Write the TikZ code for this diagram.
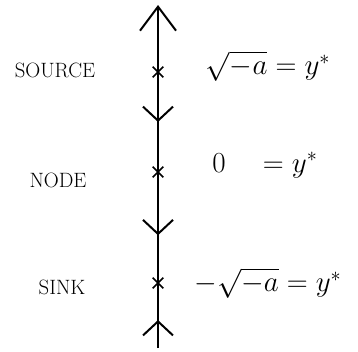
\documentclass[tikz,border=0pt]{standalone}
\usetikzlibrary{arrows.meta,decorations.markings,shapes.misc}
\tikzset{
  fixpt/.style={draw, cross out, line width=1.6pt, minimum size=9pt, inner sep=0pt},
  kind/.style={font=\huge},
  eqn/.style={font=\huge, scale=1.4},
  flow/.style={postaction={decorate}, decoration={markings, mark=at position #1 with {\arrow{>}}}},
}
\begin{document}
\begin{tikzpicture}[x=1pt, y=-1pt, line width=2pt, >={Straight Barb[length=14pt,width=30pt]}]
\useasboundingbox (0,0) rectangle (358,351);
\coordinate (top) at (158,5);
\coordinate (bot) at (158,348);
\node[fixpt] (source) at (158,72) {};
\node[fixpt] (node) at (158,172) {};
\node[fixpt] (sink) at (158,283) {};
\node[kind] (srclbl) at (55,70) {SOURCE};
\node[kind] (nodelbl) at (58,180) {NODE};
\node[kind] (sinklbl) at (62,287) {SINK};
\node[eqn] (srceq) at (268,66) {$\sqrt{-a}=y^*$};
\node[eqn] (nodeeq) at (265,165) {$0\quad=y^*$};
\node[eqn] (sinkeq) at (268,283) {$-\sqrt{-a}=y^*$};
\draw[-{Straight Barb[length=24pt,width=36pt]}] (source.center) -- (top);
\draw[flow=0.5] (source.center) -- (node.center);
\draw[flow=0.57] (node.center) -- (sink.center);
\draw[flow=0.43] (bot) -- (sink.center);
\end{tikzpicture}
\end{document}
